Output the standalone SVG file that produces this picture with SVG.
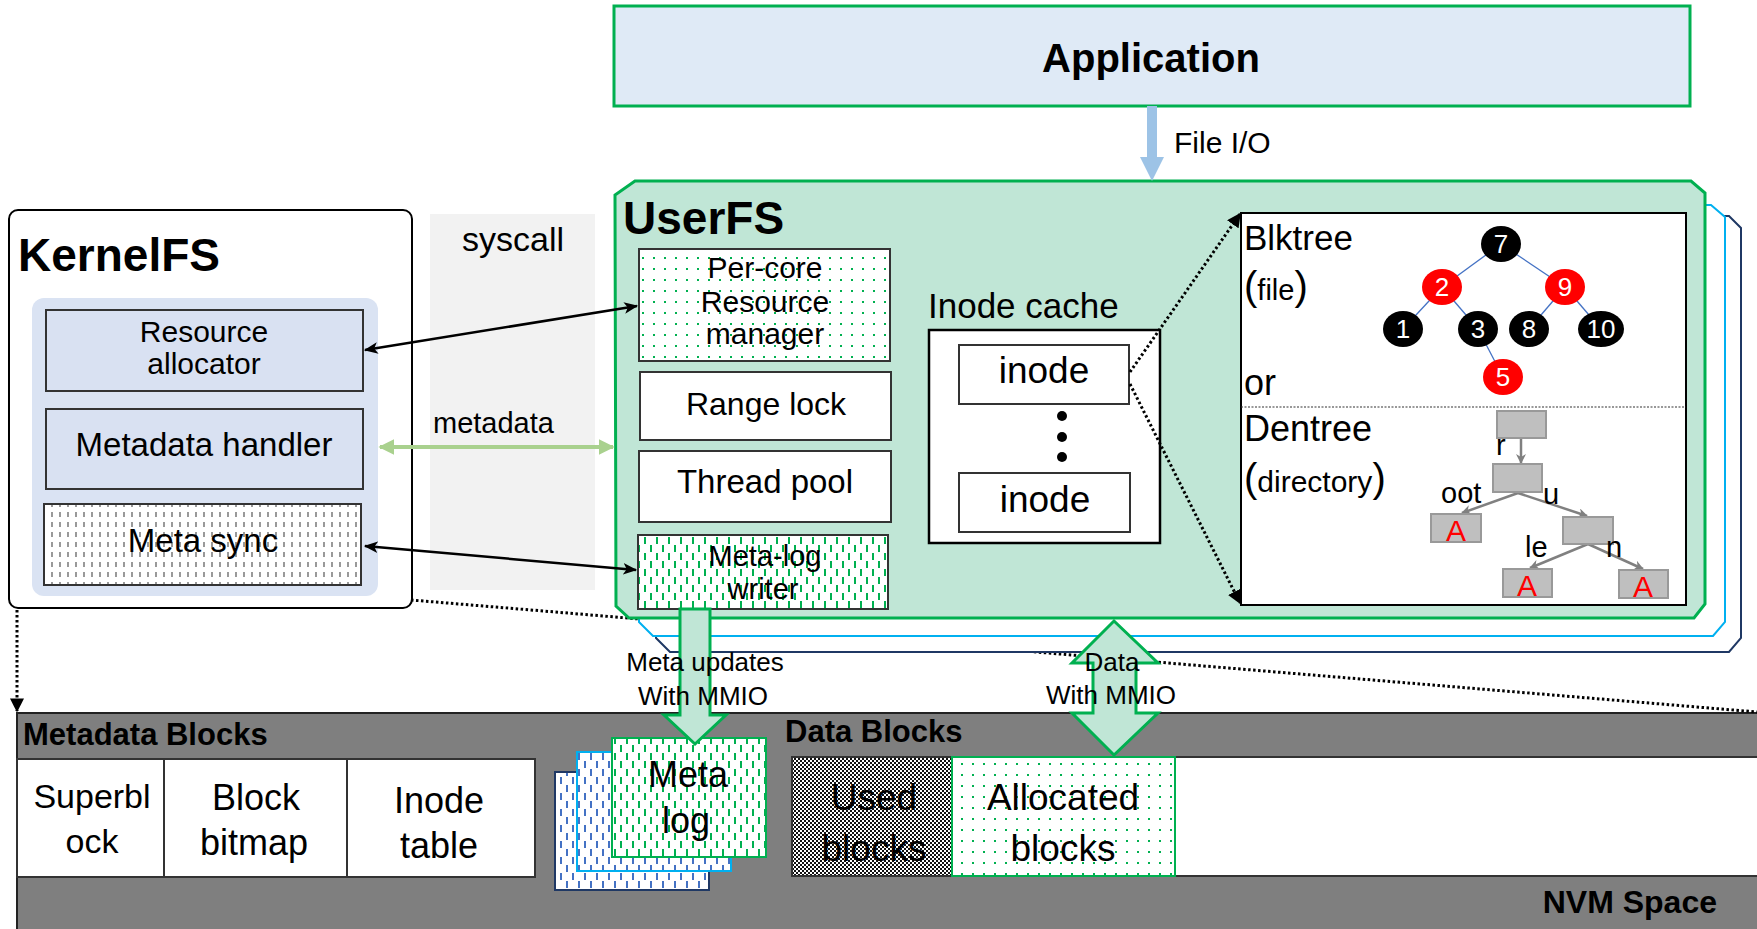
<svg xmlns="http://www.w3.org/2000/svg" width="1757" height="929" viewBox="0 0 1757 929">
<style>
text{font-family:"Liberation Sans",Arial,sans-serif;fill:#000}
.b{font-weight:bold}
.c{text-anchor:middle}
.box{stroke:#333;stroke-width:2}
.dot{fill:none;stroke:#000;stroke-width:3;stroke-dasharray:2.5 2.5}
.conn{fill:none;stroke:#000;stroke-width:2.5}
.tree{stroke:#4472c4;stroke-width:1.3}
.dg{fill:#bfbfbf;stroke:#999;stroke-width:2}
.da{stroke:#808080;stroke-width:2.5;fill:none}
.w{fill:#fff}
.red{fill:#ff0000}
</style>
<defs>
<pattern id="dotGreen" width="11" height="11" patternUnits="userSpaceOnUse">
<rect width="11" height="11" fill="#fff"/>
<rect x="4" y="4" width="2" height="2" fill="#00b050"/>
</pattern>
<pattern id="dashGreen" width="12" height="16" patternUnits="userSpaceOnUse">
<rect width="12" height="16" fill="#fff"/>
<line x1="3" y1="1" x2="3" y2="8" stroke="#00b050" stroke-width="2"/>
<line x1="9" y1="9" x2="9" y2="16" stroke="#00b050" stroke-width="2"/>
</pattern>
<pattern id="dashBlue" width="12" height="16" patternUnits="userSpaceOnUse">
<rect width="12" height="16" fill="#fff"/>
<line x1="3" y1="1" x2="3" y2="8" stroke="#4472c4" stroke-width="2"/>
<line x1="9" y1="9" x2="9" y2="16" stroke="#4472c4" stroke-width="2"/>
</pattern>
<pattern id="dashGray" width="8" height="10" patternUnits="userSpaceOnUse">
<rect width="8" height="10" fill="#fff"/>
<line x1="4" y1="2" x2="4" y2="7" stroke="#555" stroke-width="1.2"/>
</pattern>
<pattern id="checker" width="4" height="4" patternUnits="userSpaceOnUse">
<rect width="4" height="4" fill="#fff"/>
<rect width="2" height="2" fill="#111"/>
<rect x="2" y="2" width="2" height="2" fill="#111"/>
</pattern>
<marker id="arrB" viewBox="0 0 12 10" refX="11" refY="5" markerWidth="14" markerHeight="12" markerUnits="userSpaceOnUse" orient="auto-start-reverse">
<path d="M0,0 L12,5 L0,10 L3,5 z" fill="#000"/>
</marker>
<marker id="arrG" viewBox="0 0 10 10" refX="9" refY="5" markerWidth="16" markerHeight="16" markerUnits="userSpaceOnUse" orient="auto-start-reverse">
<path d="M0,0 L10,5 L0,10 z" fill="#a9d18e"/>
</marker>
<marker id="arrD" viewBox="0 0 10 10" refX="9" refY="5" markerWidth="14" markerHeight="14" markerUnits="userSpaceOnUse" orient="auto">
<path d="M0,0 L10,5 L0,10 z" fill="#000"/>
</marker>
<marker id="arrGr" viewBox="0 0 10 10" refX="9" refY="5" markerWidth="10" markerHeight="10" markerUnits="userSpaceOnUse" orient="auto">
<path d="M0,0 L10,5 L0,10 L3,5 z" fill="#808080"/>
</marker>
</defs>
<rect width="1757" height="929" fill="#fff"/>

<!-- NVM space -->
<g id="nvm">
<rect x="17" y="713" width="1745" height="222" fill="#7f7f7f" stroke="#222" stroke-width="2"/>
<text x="23" y="745" class="b" font-size="31">Metadata Blocks</text>
<text x="785" y="742" class="b" font-size="31">Data Blocks</text>
<text x="1717" y="913" class="b" font-size="32" text-anchor="end">NVM Space</text>
</g>
<g id="superblock">
<rect x="17" y="759" width="147" height="118" class="w box"/>
<text x="92" y="808" class="c" font-size="34">Superbl</text>
<text x="92" y="853" class="c" font-size="34">ock</text>
</g>
<g id="block-bitmap">
<rect x="164" y="759" width="183" height="118" class="w box"/>
<text x="256" y="810" class="c" font-size="36">Block</text>
<text x="254" y="855" class="c" font-size="36">bitmap</text>
</g>
<g id="inode-table">
<rect x="347" y="759" width="188" height="118" class="w box"/>
<text x="439" y="813" class="c" font-size="36">Inode</text>
<text x="439" y="858" class="c" font-size="36">table</text>
</g>
<g id="meta-log">
<rect x="555" y="772" width="154" height="118" fill="url(#dashBlue)" stroke="#1f3864" stroke-width="2"/>
<rect x="577" y="752" width="154" height="119" fill="url(#dashBlue)" stroke="#00b0f0" stroke-width="2"/>
<rect x="612" y="738" width="154" height="119" fill="url(#dashGreen)" stroke="#00b050" stroke-width="2"/>
<text x="688" y="787" class="c" font-size="36">Meta</text>
<text x="686" y="833" class="c" font-size="36">log</text>
</g>
<g id="data-blocks">
<rect x="792" y="757" width="975" height="119" class="w box"/>
</g>
<g id="used-blocks">
<rect x="792" y="757" width="160" height="119" fill="url(#checker)" stroke="#333" stroke-width="2"/>
<text x="874" y="810" class="c" font-size="37">Used</text>
<text x="874" y="861" class="c" font-size="37">blocks</text>
</g>
<g id="allocated-blocks">
<rect x="952" y="757" width="223" height="119" fill="url(#dotGreen)" stroke="#00b050" stroke-width="2"/>
<text x="1063" y="810" class="c" font-size="37">Allocated</text>
<text x="1063" y="861" class="c" font-size="37">blocks</text>
</g>

<!-- dotted mapping lines (behind) -->
<g id="dotted-lines">
<line x1="411" y1="600" x2="1757" y2="712" class="dot"/>
<line x1="17" y1="610" x2="17" y2="711" class="dot" marker-end="url(#arrD)"/>
</g>

<!-- syscall -->
<g id="syscall">
<rect x="430" y="214" width="165" height="376" fill="#f2f2f2"/>
<text x="513" y="251" class="c" font-size="34">syscall</text>
</g>

<!-- KernelFS -->
<g id="kernelfs">
<rect x="9" y="210" width="403" height="398" rx="9" fill="#fff" stroke="#000" stroke-width="2"/>
<text x="18" y="271" class="b" font-size="46">KernelFS</text>
<rect x="32" y="298" width="346" height="298" rx="12" fill="#dae3f3"/>
</g>
<g id="resource-allocator">
<rect x="46" y="310" width="317" height="81" fill="#d9e1f2" class="box"/>
<text x="204" y="342" class="c" font-size="30">Resource</text>
<text x="204" y="374" class="c" font-size="30">allocator</text>
</g>
<g id="metadata-handler">
<rect x="46" y="409" width="317" height="80" fill="#d9e1f2" class="box"/>
<text x="204" y="456" class="c" font-size="33">Metadata handler</text>
</g>
<g id="meta-sync">
<rect x="44" y="504" width="317" height="81" fill="url(#dashGray)" class="box"/>
<text x="203" y="552" class="c" font-size="33">Meta sync</text>
</g>

<!-- UserFS stack -->
<g id="userfs">
<polygon points="668,216 1729,216 1741,228 1741,638 1729,652 670,652 656,638 656,228" fill="#fff" stroke="#1f3864" stroke-width="2"/>
<polygon points="651,205 1711,205 1725,217 1725,622 1713,636 653,636 639,622 639,217" fill="#fff" stroke="#00b0f0" stroke-width="2"/>
<polygon points="635,181 1691,181 1705,193 1705,604 1694,618 629,618 616,606 615,195" fill="#c0e6d6" stroke="#00b050" stroke-width="3"/>
<text x="623" y="234" class="b" font-size="46">UserFS</text>
</g>
<g id="per-core">
<rect x="639" y="249" width="251" height="112" fill="url(#dotGreen)" class="box"/>
<text x="765" y="278" class="c" font-size="30">Per-core</text>
<text x="765" y="312" class="c" font-size="30">Resource</text>
<text x="765" y="344" class="c" font-size="30">manager</text>
</g>
<g id="range-lock">
<rect x="640" y="372" width="251" height="68" class="w box"/>
<text x="766" y="415" class="c" font-size="32">Range lock</text>
</g>
<g id="thread-pool">
<rect x="639" y="451" width="252" height="71" class="w box"/>
<text x="765" y="493" class="c" font-size="33">Thread pool</text>
</g>
<g id="meta-log-writer">
<rect x="638" y="535" width="250" height="74" fill="url(#dashGreen)" class="box"/>
<text x="765" y="566" class="c" font-size="29">Meta-log</text>
<text x="763" y="599" class="c" font-size="29">writer</text>
</g>
<g id="inode-cache">
<text x="928" y="318" font-size="35">Inode cache</text>
<rect x="929" y="330" width="231" height="213" class="w" stroke="#000" stroke-width="2.5"/>
<rect x="959" y="345" width="170" height="59" class="w box"/>
<text x="1044" y="383" class="c" font-size="37">inode</text>
<circle cx="1062" cy="416" r="5"/>
<circle cx="1062" cy="437" r="5"/>
<circle cx="1062" cy="457" r="5"/>
<rect x="959" y="473" width="171" height="59" class="w box"/>
<text x="1045" y="512" class="c" font-size="37">inode</text>
</g>
<g id="tree-panel">
<rect x="1241" y="213" width="445" height="392" class="w" stroke="#000" stroke-width="2"/>
<line x1="1241" y1="407" x2="1686" y2="407" stroke="#333" stroke-width="1.2" stroke-dasharray="2 1.5"/>
<text x="1244" y="250" font-size="35">Blktree</text>
<text x="1244" y="300"><tspan font-size="40">(</tspan><tspan font-size="29">file</tspan><tspan font-size="40">)</tspan></text>
<text x="1244" y="395" font-size="36">or</text>
<text x="1244" y="441" font-size="36">Dentree</text>
<text x="1244" y="492"><tspan font-size="40">(</tspan><tspan font-size="30">directory</tspan><tspan font-size="40">)</tspan></text>
</g>
<g id="blktree">
<line x1="1501" y1="244" x2="1442" y2="287" class="tree"/>
<line x1="1501" y1="244" x2="1565" y2="287" class="tree"/>
<line x1="1442" y1="287" x2="1403" y2="329" class="tree"/>
<line x1="1442" y1="287" x2="1478" y2="329" class="tree"/>
<line x1="1565" y1="287" x2="1529" y2="329" class="tree"/>
<line x1="1565" y1="287" x2="1601" y2="329" class="tree"/>
<line x1="1478" y1="329" x2="1503" y2="377" class="tree"/>
<ellipse cx="1501" cy="244" rx="20" ry="18" fill="#000"/>
<ellipse cx="1442" cy="287" rx="20" ry="18" fill="#ff0000"/>
<ellipse cx="1565" cy="287" rx="20" ry="18" fill="#ff0000"/>
<ellipse cx="1403" cy="329" rx="20" ry="18" fill="#000"/>
<ellipse cx="1478" cy="329" rx="20" ry="18" fill="#000"/>
<ellipse cx="1529" cy="329" rx="20" ry="18" fill="#000"/>
<ellipse cx="1601" cy="329" rx="23" ry="18" fill="#000"/>
<ellipse cx="1503" cy="377" rx="20" ry="18" fill="#ff0000"/>
<g font-size="26" class="c">
<text x="1501" y="253" class="c w">7</text>
<text x="1442" y="296" class="c w">2</text>
<text x="1565" y="296" class="c w">9</text>
<text x="1403" y="338" class="c w">1</text>
<text x="1478" y="338" class="c w">3</text>
<text x="1529" y="338" class="c w">8</text>
<text x="1601" y="338" class="c w">10</text>
<text x="1503" y="386" class="c w">5</text>
</g>
</g>
<g id="dentree">
<line x1="1521" y1="438" x2="1521" y2="463" class="da" marker-end="url(#arrGr)"/>
<line x1="1518" y1="493" x2="1462" y2="513" class="da" marker-end="url(#arrGr)"/>
<line x1="1518" y1="493" x2="1587" y2="516" class="da" marker-end="url(#arrGr)"/>
<line x1="1588" y1="544" x2="1530" y2="568" class="da" marker-end="url(#arrGr)"/>
<line x1="1588" y1="544" x2="1643" y2="569" class="da" marker-end="url(#arrGr)"/>
<rect x="1497" y="411" width="49" height="27" class="dg"/>
<rect x="1493" y="464" width="49" height="28" class="dg"/>
<rect x="1431" y="514" width="50" height="28" class="dg"/>
<rect x="1563" y="517" width="50" height="27" class="dg"/>
<rect x="1503" y="569" width="49" height="28" class="dg"/>
<rect x="1619" y="570" width="49" height="28" class="dg"/>
<text x="1456" y="541" class="c red" font-size="30">A</text>
<text x="1527" y="596" class="c red" font-size="30">A</text>
<text x="1643" y="597" class="c red" font-size="30">A</text>
<g font-size="29">
<text x="1496" y="455">r</text>
<text x="1441" y="503">oot</text>
<text x="1543" y="504">u</text>
<text x="1525" y="557">le</text>
<text x="1606" y="557">n</text>
</g>
</g>

<!-- Application -->
<g id="application">
<rect x="614" y="6" width="1076" height="100" fill="#dfeaf6" stroke="#00b050" stroke-width="3"/>
<text x="1151" y="72" class="c b" font-size="40">Application</text>
</g>

<!-- connectors -->
<g id="connectors">
<line x1="1152" y1="106" x2="1152" y2="160" stroke="#9dc3e6" stroke-width="10"/>
<polygon points="1140,157 1164,157 1152,181" fill="#9dc3e6"/>
<text x="1174" y="153" font-size="30">File I/O</text>
<line x1="365" y1="350" x2="637" y2="306" class="conn" marker-start="url(#arrB)" marker-end="url(#arrB)"/>
<line x1="365" y1="546" x2="636" y2="570" class="conn" marker-start="url(#arrB)" marker-end="url(#arrB)"/>
<line x1="380" y1="447" x2="613" y2="447" stroke="#a9d18e" stroke-width="4" marker-start="url(#arrG)" marker-end="url(#arrG)"/>
<text x="433" y="433" font-size="29">metadata</text>
<line x1="1130" y1="372" x2="1240" y2="214" class="dot" marker-end="url(#arrD)"/>
<line x1="1130" y1="384" x2="1240" y2="603" class="dot" marker-end="url(#arrD)"/>
<polygon points="680,609 710,609 710,715 726,715 695,744 664,715 680,715" fill="#c0e6d6" stroke="#00b050" stroke-width="3" stroke-linejoin="miter"/>
<text x="705" y="671" class="c" font-size="26">Meta updates</text>
<text x="703" y="705" class="c" font-size="26">With MMIO</text>
<polygon points="1114,621 1158,663 1136,663 1136,713 1158,713 1114,755 1072,713 1093,713 1093,663 1072,663" fill="#c0e6d6" stroke="#00b050" stroke-width="3"/>
<text x="1112" y="671" class="c" font-size="26">Data</text>
<text x="1111" y="704" class="c" font-size="26">With MMIO</text>
</g>
</svg>
